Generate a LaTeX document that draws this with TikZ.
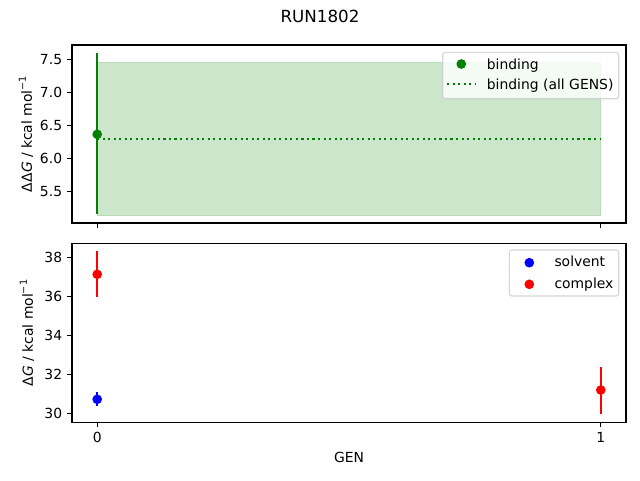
\documentclass[tikz,border=0pt]{standalone}
\usepackage{fontspec}
\setmainfont{DejaVu Sans}
\newfontfamily\obl{DejaVu Sans Oblique}
\begin{document}
\begin{tikzpicture}[x=1pt,y=-1pt,
  spine/.style={line width=1.05pt,black},
  tickmk/.style={line width=1.05pt,black},
  ticklab/.style={font=\fontsize{13.9}{16}\selectfont,inner sep=0pt},
  ebar/.style={line width=2pt},
  dotpt/.style={circle,inner sep=0pt,minimum size=9.7pt},
  legbox/.style={draw=black!20,draw opacity=0.8,fill=white,fill opacity=0.8,rounded corners=2.5pt,line width=1.1pt},
  legtxt/.style={font=\fontsize{13.9}{16}\selectfont,anchor=base west,inner sep=0pt,text opacity=1}
]
\definecolor{mgreen}{HTML}{008000}
\definecolor{band}{HTML}{CCE6CC}
\definecolor{bandedge}{HTML}{B8DCB8}
\useasboundingbox (0,0) rectangle (640,480);
\fill[white] (0,0) rectangle (640,480);
% title
\node[font=\fontsize{16.7}{20}\selectfont] (title) at (320,16.5) {RUN1802};
% ---------- top axes ----------
\fill[band] (97.2,62) rectangle (600.8,215);
\draw[bandedge,line width=0.8pt] (97.2,62) rectangle (600.8,215);
\draw[mgreen,line width=2pt,dash pattern=on 2.08pt off 3.44pt] (97.2,138.7) -- (600.8,138.7);
\draw[ebar,mgreen] (97.2,53.3) -- (97.2,214.3);
\node[dotpt,fill=mgreen] (bind0) at (97.2,134.3) {};
\draw[spine] (72,45) rectangle (626,223);
\foreach \v/\y in {7.5/59.3,7.0/92.3,6.5/125.3,6.0/158.3,5.5/191.3}{
  \draw[tickmk] (72,\y) -- (67.1,\y);
  \node[ticklab,anchor=east] at (62.3,\y) {\v};
}
\foreach \x in {97.2,600.8}{ \draw[tickmk] (\x,223) -- (\x,227.9); }
\node[rotate=90,font=\fontsize{13.9}{16}\selectfont] (ylab1) at (26,134) {ΔΔ{\obl G} / kcal mol\raisebox{0.42em}{\fontsize{9.7}{10}\selectfont −1}};
% top legend
\draw[legbox] (442.7,52.3) rectangle (618.7,98.7);
\node[dotpt,fill=mgreen] (legb) at (461.3,64) {};
\draw[mgreen,line width=2pt,dash pattern=on 2.08pt off 3.44pt] (447,84) -- (476,84);
\node[legtxt] (lt1) at (486.7,69.3) {binding};
\node[legtxt] (lt2) at (486.7,89.3) {binding (all GENS)};
% ---------- bottom axes ----------
\draw[ebar,blue] (97.2,392.3) -- (97.2,405.7);
\node[dotpt,fill=blue] (solv0) at (97.2,399.3) {};
\draw[ebar,red] (97.2,251) -- (97.2,296.7);
\node[dotpt,fill=red] (cplx0) at (97.2,274.3) {};
\draw[ebar,red] (600.8,366.7) -- (600.8,413.7);
\node[dotpt,fill=red] (cplx1) at (600.8,390) {};
\draw[spine] (72,243.3) rectangle (626,422.3);
\foreach \v/\y in {38/257.3,36/296.3,34/335.3,32/374.3,30/413.3}{
  \draw[tickmk] (72,\y) -- (67.1,\y);
  \node[ticklab,anchor=east] at (62.3,\y) {\v};
}
\foreach \x/\l in {97.2/0,600.8/1}{
  \draw[tickmk] (\x,422.3) -- (\x,427.2);
  \node[ticklab,anchor=north] at (\x,432) {\l};
}
\node[font=\fontsize{13.9}{16}\selectfont] (xlab) at (349,457) {GEN};
\node[rotate=90,font=\fontsize{13.9}{16}\selectfont] (ylab2) at (27,333) {Δ{\obl G} / kcal mol\raisebox{0.42em}{\fontsize{9.7}{10}\selectfont −1}};
% bottom legend
\draw[legbox] (509.3,250) rectangle (618.7,296);
\node[dotpt,fill=blue] (legs) at (529.3,262.7) {};
\node[dotpt,fill=red] (legc) at (529.3,284.3) {};
\node[legtxt] (ls) at (554.3,266.9) {solvent};
\node[legtxt] (lc) at (554.3,288.5) {complex};
\end{tikzpicture}
\end{document}
